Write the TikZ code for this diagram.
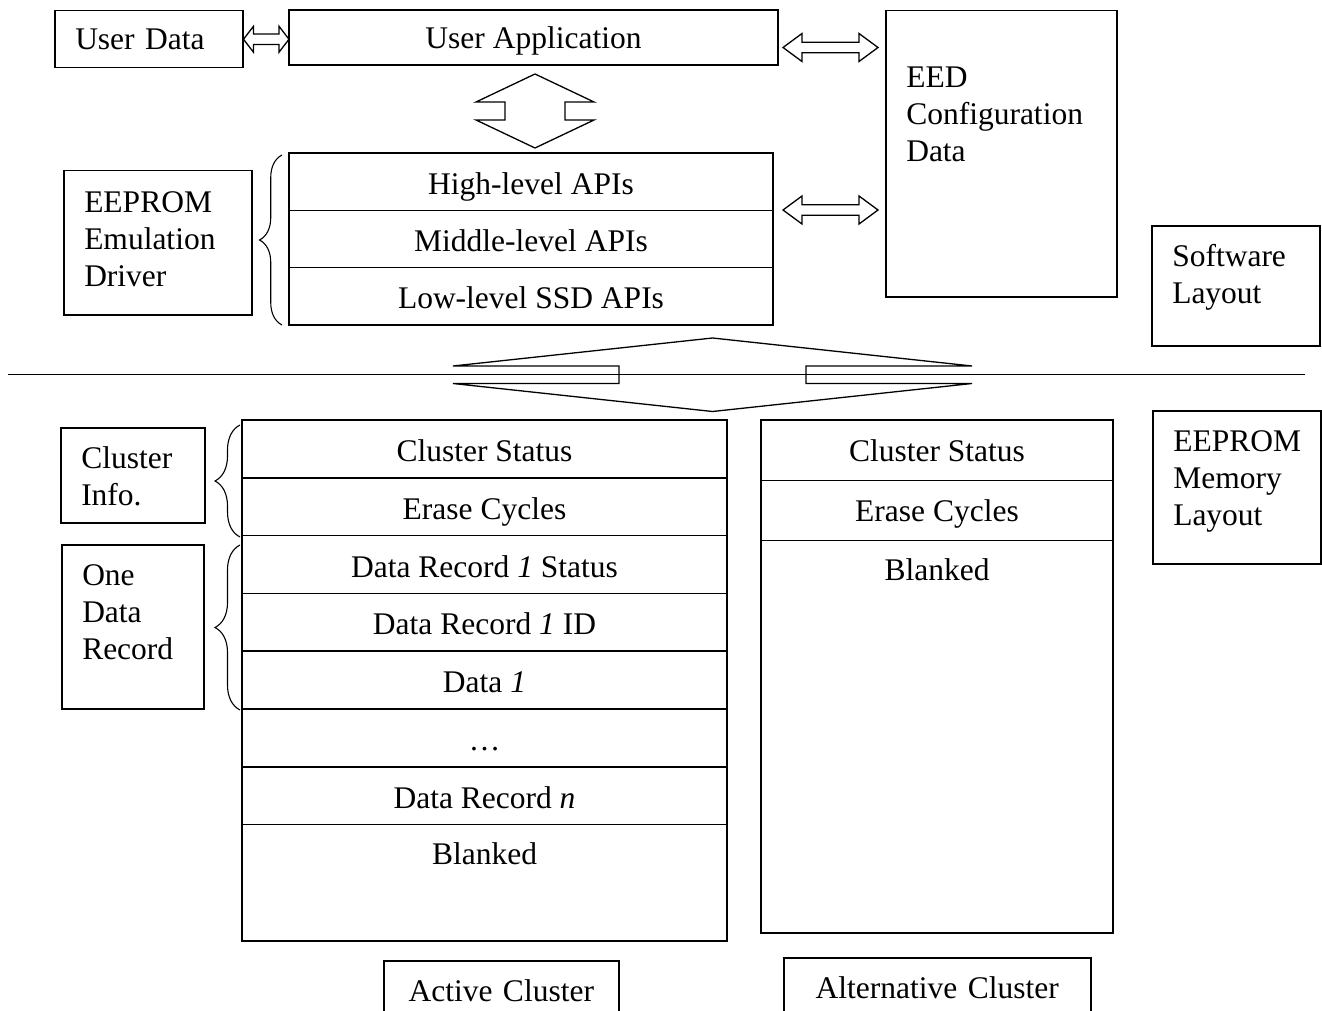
\documentclass[tikz,border=0pt]{standalone}
\usepackage{fontspec}
\setmainfont{Liberation Serif}
\usepackage{tikz}
\usetikzlibrary{positioning, calc, decorations.pathreplacing}
% fat double arrows: tip, tip, head length, head half size, shaft half size
\newcommand{\hfatarrow}[5]{\draw[fat] (#1) -- ++(#3,-#4) -- ++(0,#4-#5) -- ($(#2)+(-#3,-#5)$) -- ++(0,#5-#4) -- (#2) -- ++(-#3,#4) -- ++(0,#5-#4) -- ($(#1)+(#3,#5)$) -- ++(0,#4-#5) -- cycle;}
\newcommand{\vfatarrow}[5]{\draw[fat] (#1) -- ++(#4,#3) -- ++(#5-#4,0) -- ($(#2)+(#5,-#3)$) -- ++(#4-#5,0) -- (#2) -- ++(-#4,-#3) -- ++(#4-#5,0) -- ($(#1)+(-#5,#3)$) -- ++(#5-#4,0) -- cycle;}

\begin{document}
\begin{tikzpicture}[x=1pt, y=-1pt,
  every node/.style={font=\fontsize{31.5}{37}\selectfont},
  lblbox/.style={draw, line width=1.5pt, anchor=north west, inner xsep=20.5pt, inner ysep=0pt, align=left},
  cell/.style={draw, line width=1.5pt, anchor=north, outer sep=0pt, inner sep=0pt, text height=22pt, text depth=0pt},
  apirow/.style={cell, text height=25pt, minimum width=484pt, minimum height=57.3pt},
  actrow/.style={cell, text height=25pt, minimum width=485pt, minimum height=57.8pt},
  altrow/.style={cell, minimum width=352pt, minimum height=60.3pt},
  blank/.style={cell, text height=40pt},
  fat/.style={line width=1.3pt, line join=miter},
  brc/.style={decorate, decoration={brace, amplitude=#1}, line width=1.1pt},
]
\useasboundingbox (0,0) rectangle (1322,1011);

% software layout
\node[lblbox, text width=147pt, text height=38.5pt, text depth=18.5pt] (udata) at (54,10) {User Data};
\node[cell, minimum width=489pt, minimum height=55pt] (uapp) at (533.5,10) {User Application};
\node[lblbox, text width=190pt, text height=76.5pt, text depth=209.5pt] (eed) at (885,10) {EED\\Configuration\\Data};

\node[apirow] (hi) at (531,153) {High-level APIs};
\node[apirow, below=0pt of hi] (mid) {Middle-level APIs};
\node[apirow, below=0pt of mid] (low) {Low-level SSD APIs};
\node[lblbox, text width=147pt, text height=41.5pt, text depth=102.5pt] (drv) at (63,170) {EEPROM\\Emulation\\Driver};
\node[lblbox, text width=127pt, text height=41pt, text depth=79pt] (sw) at (1151,225) {Software\\Layout};

\coordinate (a1l) at (udata.east);
\coordinate (a1r) at (udata.east -| uapp.west);
\coordinate (a2l) at (783,47.5);
\coordinate (a2r) at (878,47.5);
\coordinate (a3l) at (783,210);
\coordinate (a3r) at (878,210);
\coordinate (v1t) at (535,74);
\coordinate (v1b) at (535,148);
\hfatarrow{a1l}{a1r}{10}{13}{5.2}
\hfatarrow{a2l}{a2r}{19}{14}{5.3}
\hfatarrow{a3l}{a3r}{19}{14}{5.3}
\vfatarrow{v1t}{v1b}{28}{59}{30}
\draw[brc=22.5pt] (282,325) -- (282,155);

% separator
\draw[line width=1.5pt] (8,374.5) -- (1305,374.5);
\coordinate (v2t) at (712.5,338);
\coordinate (v2b) at (712.5,411.5);
\vfatarrow{v2t}{v2b}{28}{259.5}{93.5}

% memory layout
\node[actrow] (act1) at (484.5,420) {Cluster Status};
\node[actrow, below=0pt of act1] (act2) {Erase Cycles};
\node[actrow, below=0pt of act2] (act3) {Data Record \textit{1} Status};
\node[actrow, below=0pt of act3] (act4) {Data Record \textit{1} ID};
\node[actrow, below=0pt of act4] (act5) {Data \textit{1}};
\node[actrow, below=0pt of act5] (act6) {…};
\node[actrow, below=0pt of act6] (act7) {Data Record \textit{n}};
\node[blank, minimum width=485pt, text depth=76.4pt, below=0pt of act7] (actb) {Blanked};

\node[altrow] (alt1) at (937,420) {Cluster Status};
\node[altrow, below=0pt of alt1] (alt2) {Erase Cycles};
\node[blank, minimum width=352pt, text depth=352.4pt, below=0pt of alt2] (altb) {Blanked};

\node[lblbox, text width=103pt, text height=40.5pt, text depth=54.5pt] (cinfo) at (60,427) {Cluster\\Info.};
\node[lblbox, text width=101pt, text height=40.5pt, text depth=123.5pt] (rec) at (61,544) {One\\Data\\Record};
\draw[brc=25pt] (240,537) -- (240,425);
\draw[brc=25pt] (240,710) -- (240,545);
\node[lblbox, text width=127pt, text height=41pt, text depth=112pt] (mem) at (1152,410) {EEPROM\\Memory\\Layout};

\node[lblbox, align=center, text width=194pt, text height=40.5pt, text depth=30pt] (actlbl) at (383,960) {Active Cluster};
\node[lblbox, align=center, text width=266pt, text height=40.5pt, text depth=30pt] (altlbl) at (783,957) {Alternative Cluster};

\end{tikzpicture}
\end{document}
